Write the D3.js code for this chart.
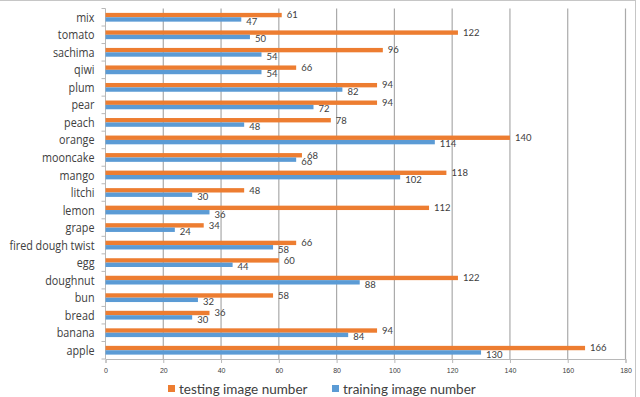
<!DOCTYPE html>
<html>
<head>
<meta charset="utf-8">
<script src="https://cdn.jsdelivr.net/npm/d3@7"></script>
<style>
  body { margin: 0; background: #fff; }
  svg { display: block; font-family: Lato, "Liberation Sans", sans-serif; }
  .cat { font-family: "Open Sans", sans-serif; }
</style>
</head>
<body>
<svg id="chart" width="640" height="397"></svg>
<script>
// categories listed top to bottom as in the picture
var categories = ['mix', 'tomato', 'sachima', 'qiwi', 'plum', 'pear', 'peach', 'orange', 'mooncake', 'mango',
  'litchi', 'lemon', 'grape', 'fired dough twist', 'egg', 'doughnut', 'bun', 'bread', 'banana', 'apple'];
var testing = [61, 122, 96, 66, 94, 94, 78, 140, 68, 118, 48, 112, 34, 66, 60, 122, 58, 36, 94, 166];
var training = [47, 50, 54, 54, 82, 72, 48, 114, 66, 102, 30, 36, 24, 58, 44, 88, 32, 30, 84, 130];
var xTicks = [0, 20, 40, 60, 80, 100, 120, 140, 160, 180];
var seriesNames = ['testing image number', 'training image number'];

var orange = '#ed7d31', blue = '#5b9bd5';

var margin = { top: 8.5, right: 14.5, bottom: 38, left: 105.5 },
    width = 640 - margin.left - margin.right,
    height = 397 - margin.top - margin.bottom;

var svg = d3.select('#chart');

// outer frame
svg.append('rect')
  .attr('x', -1).attr('y', 0.5)
  .attr('width', 636.5).attr('height', 400)
  .attr('fill', 'none').attr('stroke', '#c6c6c6');

var g = svg.append('g')
  .attr('transform', 'translate(' + margin.left + ',' + margin.top + ')');

var x = d3.scaleLinear().domain([0, 180]).range([0, width]);
var y = d3.scaleBand().domain(categories).range([0, height]).paddingInner(0.5).paddingOuter(0.25);
var inner = d3.scaleBand().domain([0, 1]).range([0, y.bandwidth()]);

// vertical gridlines
g.selectAll('.grid')
  .data(xTicks.slice(1))
  .enter().append('line')
  .attr('x1', function (d) { return x(d); })
  .attr('x2', function (d) { return x(d); })
  .attr('y1', 0).attr('y2', height)
  .attr('stroke', '#aaaaaa').attr('stroke-width', 1.2);

// bottom axis
var xAxis = d3.axisBottom(x).tickValues(xTicks).tickSize(4).tickPadding(5);
var gx = g.append('g').attr('transform', 'translate(0,' + height + ')').call(xAxis);
gx.select('.domain').attr('stroke', '#b8b8b8');
gx.selectAll('.tick line').attr('stroke', '#b8b8b8');
gx.selectAll('.tick text').attr('font-size', 7).attr('fill', '#404040');

// left axis with ticks at band boundaries
g.append('line').attr('x1', 0).attr('x2', 0).attr('y1', 0).attr('y2', height)
  .attr('stroke', '#b8b8b8');
var step = y.step();
g.selectAll('.ytick')
  .data(d3.range(categories.length + 1))
  .enter().append('line')
  .attr('x1', -4).attr('x2', 0)
  .attr('y1', function (i) { return i * step; })
  .attr('y2', function (i) { return i * step; })
  .attr('stroke', '#b8b8b8');

// category labels, squeezed horizontally to mimic a condensed face
g.selectAll('.cat')
  .data(categories)
  .enter().append('text')
  .attr('class', 'cat')
  .attr('transform', function (d) {
    return 'translate(-11,' + (y(d) + y.bandwidth() / 2) + ') scale(0.83,1)';
  })
  .attr('dy', '0.35em')
  .attr('text-anchor', 'end')
  .attr('font-size', 13)
  .attr('fill', '#404040')
  .text(function (d) { return d; });

// bars
var series = [testing, training];
var colors = [orange, blue];
series.forEach(function (vals, s) {
  g.selectAll('.bar' + s)
    .data(vals)
    .enter().append('rect')
    .attr('x', 0)
    .attr('y', function (d, i) { return y(categories[i]) + inner(s); })
    .attr('width', function (d) { return x(d); })
    .attr('height', inner.bandwidth())
    .attr('fill', colors[s]);

  g.selectAll('.lbl' + s)
    .data(vals)
    .enter().append('text')
    .attr('x', function (d) { return x(d) + 5; })
    .attr('y', function (d, i) { return y(categories[i]) + inner(s) + inner.bandwidth() / 2 + (s ? 2 : 0); })
    .attr('dy', '0.35em')
    .attr('font-size', 9.5)
    .attr('fill', '#404040')
    .text(function (d) { return d; });
});

// legend
var legendX = [168, 332];
series.forEach(function (vals, s) {
  var lg = svg.append('g').attr('transform', 'translate(' + legendX[s] + ',385)');
  lg.append('rect').attr('width', 7).attr('height', 7).attr('fill', colors[s]);
  lg.append('text')
    .attr('x', 11).attr('y', 4).attr('dy', '0.35em')
    .attr('font-size', 13.5).attr('fill', '#404040')
    .text(seriesNames[s]);
});
</script>
</body>
</html>
